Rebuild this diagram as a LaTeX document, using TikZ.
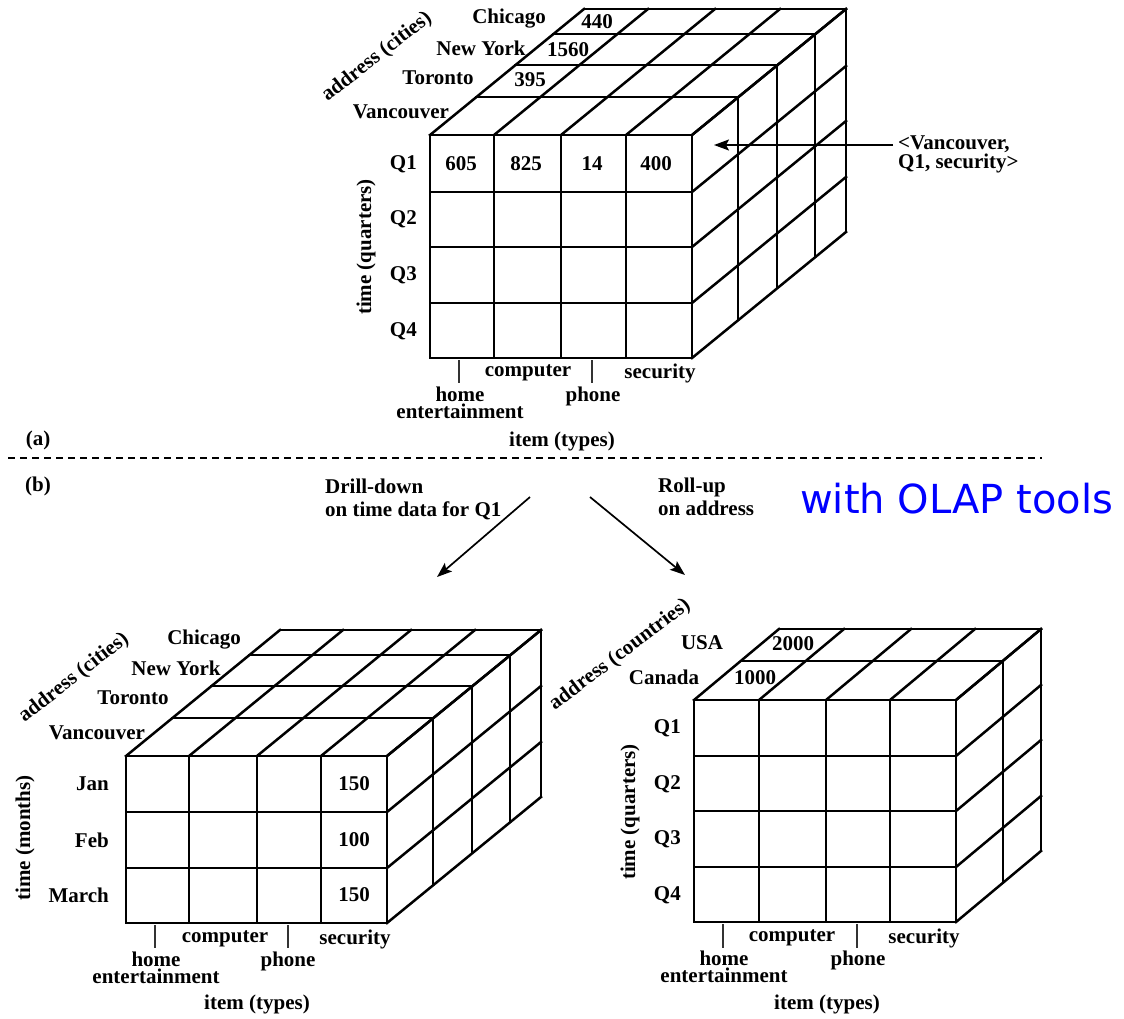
\documentclass[tikz,border=0pt]{standalone}
\usepackage{fontspec}
\setmainfont{Liberation Serif}
\newfontfamily\olapfont{DejaVu Sans}
\usetikzlibrary{arrows.meta}

\tikzset{
  cubeline/.style={line width=2.5pt, line cap=rect, black},
  tickline/.style={line width=1.2pt, black!80},
  lbl/.style={font=\fontsize{21}{23}\selectfont\bfseries, inner sep=0pt},
  twoline/.style={lbl, align=center, font=\fontsize{21}{16.5}\selectfont\bfseries},
  ptr/.style={line width=1.7pt, -{Stealth[length=15pt,width=11pt,inset=3pt]}},
  separator/.style={line width=1.8pt, dash pattern=on 7pt off 5pt},
}

% #1 column xs, #2 left x, #3 right x, #4 row ys, #5 top y, #6 bottom y,
% #7 depth offsets ox/oy, #8 #9 full depth offset
\newcommand\olapcube[9]{%
  \foreach \x in {#1} \draw[cubeline] (\x,#5) -- (\x,#6);
  \foreach \y in {#4} \draw[cubeline] (#2,\y) -- (#3,\y);
  \foreach \ox/\oy in {#7} \draw[cubeline] (#2+\ox,#5+\oy) -- (#3+\ox,#5+\oy);
  \foreach \x in {#1} \draw[cubeline] (\x,#5) -- (\x+#8,#5+#9);
  \foreach \ox/\oy in {#7} \draw[cubeline] (#3+\ox,#5+\oy) -- (#3+\ox,#6+\oy);
  \foreach \y in {#4} \draw[cubeline] (#3,\y) -- (#3+#8,\y+#9);
}

\begin{document}
\begin{tikzpicture}[x=1pt,y=-1pt]
\useasboundingbox (0,0) rectangle (1124,1018);

% ---------- (a) cube: address x time x item ----------
\olapcube{430,494,561,626,692}{430}{692}{135,192,247,303,358}{135}{358}
  {46/-38,85/-70,123/-101,154/-126}{154}{-126}

\node[lbl] (a-chi) at (509,19) {Chicago};
\node[lbl] (a-ny)  at (481,48) {New York};
\node[lbl] (a-tor) at (438,78) {Toronto};
\node[lbl] (a-van) at (401,112) {Vancouver};
\node[lbl] (a-v440)  at (597,22) {440};
\node[lbl] (a-v1560) at (568,50) {1560};
\node[lbl] (a-v395)  at (530,80) {395};
\node[lbl, rotate=38] (a-addr) at (377,57) {address (cities)};

\node[lbl, anchor=east] (a-q1) at (417,164) {Q1};
\node[lbl, anchor=east] (a-q2) at (417,219) {Q2};
\node[lbl, anchor=east] (a-q3) at (417,275) {Q3};
\node[lbl, anchor=east] (a-q4) at (417,331) {Q4};
\node[lbl, rotate=90] (a-time) at (366,247) {time (quarters)};

\node[lbl] (a-c1) at (461,164) {605};
\node[lbl] (a-c2) at (526,164) {825};
\node[lbl] (a-c3) at (592,164) {14};
\node[lbl] (a-c4) at (656,164) {400};

\coordinate (a-t1a) at (459,360); \coordinate (a-t1b) at (459,383);
\coordinate (a-t2a) at (592,360); \coordinate (a-t2b) at (592,383);
\draw[tickline] (a-t1a) -- (a-t1b);
\draw[tickline] (a-t2a) -- (a-t2b);
\node[lbl] (a-comp) at (528,373) {computer};
\node[lbl] (a-sec)  at (660,373) {security};
\node[twoline] (a-home) at (460,403) {home\\entertainment};
\node[lbl] (a-phone) at (593,396) {phone};
\node[lbl] (a-item) at (562,441) {item (types)};

\coordinate (a-tip) at (714,145);
\node[lbl, anchor=west, align=left, font=\fontsize{21}{17}\selectfont\bfseries]
  (a-cell) at (898,154) {<Vancouver,\\Q1, security>};
\draw[ptr, shorten <=5pt] (a-cell.west |- a-tip) -- (a-tip);

\node[lbl] (tag-a) at (38,440) {(a)};

% ---------- separator and operations ----------
\coordinate (sep-l) at (8,458);
\coordinate (sep-r) at (1042,458);
\draw[separator] (sep-l) -- (sep-r);

\node[lbl] (tag-b) at (38,486) {(b)};
\node[lbl, anchor=west, align=left, font=\fontsize{21}{23}\selectfont\bfseries]
  (drill) at (325,499) {Drill-down\\on time data for Q1};
\node[lbl, anchor=west, align=left, font=\fontsize{21}{23}\selectfont\bfseries]
  (roll) at (658,497) {Roll-up\\on address};
\node[anchor=west, inner sep=0pt, text=blue, font=\olapfont\fontsize{40}{44}\selectfont]
  (olap) at (800,499) {with OLAP tools};

\coordinate (dd-s) at (530,497); \coordinate (dd-e) at (437,577);
\coordinate (ru-s) at (590,497); \coordinate (ru-e) at (685,575);
\draw[ptr] (dd-s) -- (dd-e);
\draw[ptr] (ru-s) -- (ru-e);

% ---------- drill-down cube: address x months x item ----------
\olapcube{126,189,257,321,387}{126}{387}{756,812,868,923}{756}{923}
  {46/-38,85/-70,123/-101,154/-126}{154}{-126}

\node[lbl] (b-chi) at (204,640) {Chicago};
\node[lbl] (b-ny)  at (176,668) {New York};
\node[lbl] (b-tor) at (133,698) {Toronto};
\node[lbl] (b-van) at (97,733) {Vancouver};
\node[lbl, rotate=38] (b-addr) at (74,678) {address (cities)};

\node[lbl, anchor=east] (b-jan) at (109,784) {Jan};
\node[lbl, anchor=east] (b-feb) at (109,840) {Feb};
\node[lbl, anchor=east] (b-mar) at (109,895) {March};
\node[lbl, rotate=90] (b-time) at (25,838) {time (months)};

\node[lbl] (b-c1) at (354,784) {150};
\node[lbl] (b-c2) at (354,840) {100};
\node[lbl] (b-c3) at (354,895) {150};

\coordinate (b-t1a) at (155,925); \coordinate (b-t1b) at (155,948);
\coordinate (b-t2a) at (288,925); \coordinate (b-t2b) at (288,948);
\draw[tickline] (b-t1a) -- (b-t1b);
\draw[tickline] (b-t2a) -- (b-t2b);
\node[lbl] (b-comp) at (225,939) {computer};
\node[lbl] (b-sec)  at (355,939) {security};
\node[twoline] (b-home) at (156,968) {home\\entertainment};
\node[lbl] (b-phone) at (288,961) {phone};
\node[lbl] (b-item) at (257,1004) {item (types)};

% ---------- roll-up cube: countries x quarters x item ----------
\olapcube{694,759,826,890,956}{694}{956}{700,756,811,867,922}{700}{922}
  {47/-39,85/-71}{85}{-71}

\node[lbl] (c-usa) at (702,643) {USA};
\node[lbl] (c-can) at (664,677) {Canada};
\node[lbl] (c-v2000) at (793,644) {2000};
\node[lbl] (c-v1000) at (755,678) {1000};
\node[lbl, rotate=37] (c-addr) at (620,655) {address (countries)};

\node[lbl, anchor=east] (c-q1) at (681,728) {Q1};
\node[lbl, anchor=east] (c-q2) at (681,784) {Q2};
\node[lbl, anchor=east] (c-q3) at (681,839) {Q3};
\node[lbl, anchor=east] (c-q4) at (681,895) {Q4};
\node[lbl, rotate=90] (c-time) at (630,812) {time (quarters)};

\coordinate (c-t1a) at (723,924); \coordinate (c-t1b) at (723,948);
\coordinate (c-t2a) at (857,924); \coordinate (c-t2b) at (857,948);
\draw[tickline] (c-t1a) -- (c-t1b);
\draw[tickline] (c-t2a) -- (c-t2b);
\node[lbl] (c-comp) at (792,938) {computer};
\node[lbl] (c-sec)  at (924,938) {security};
\node[twoline] (c-home) at (724,967) {home\\entertainment};
\node[lbl] (c-phone) at (858,960) {phone};
\node[lbl] (c-item) at (827,1004) {item (types)};
\end{tikzpicture}
\end{document}
